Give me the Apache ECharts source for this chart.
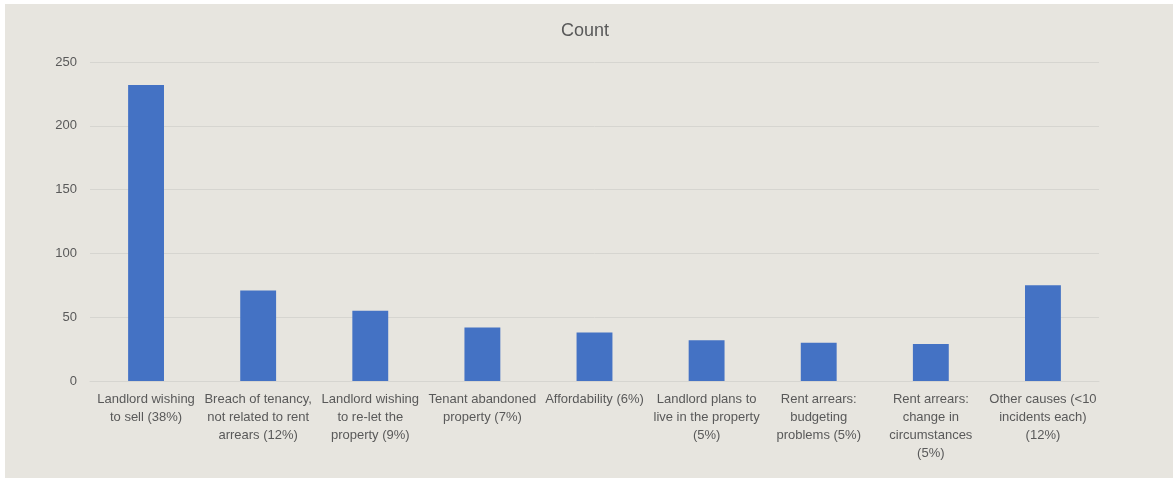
<!DOCTYPE html>
<html>
<head>
<meta charset="utf-8">
<script src="https://cdn.jsdelivr.net/npm/echarts@6/dist/echarts.min.js"></script>
<style>
  html, body { margin: 0; padding: 0; background: #ffffff; }
  #chart { position: absolute; left: 5px; top: 4px; width: 1168px; height: 474px; }
</style>
</head>
<body>
<div id="chart"></div>
<script>
// Eviction reasons and their counts
const categories = [
  'Landlord wishing\nto sell (38%)',
  'Breach of tenancy,\nnot related to rent\narrears (12%)',
  'Landlord wishing\nto re-let the\nproperty (9%)',
  'Tenant abandoned\nproperty (7%)',
  'Affordability (6%)',
  'Landlord plans to\nlive in the property\n(5%)',
  'Rent arrears:\nbudgeting\nproblems (5%)',
  'Rent arrears:\nchange in\ncircumstances\n(5%)',
  'Other causes (<10\nincidents each)\n(12%)'
];
const counts = [232, 71, 55, 42, 38, 32, 30, 29, 75];
const seriesName = 'Count';

const textColor = '#595959';
const gridColor = '#d6d5d0';
const fontFamily = '"Liberation Sans", Arial, sans-serif';

const chart = echarts.init(document.getElementById('chart'));
chart.setOption({
  backgroundColor: '#e7e5df',
  animation: false,
  title: {
    text: seriesName,
    left: 575,
    top: 13,
    textAlign: 'center',
    textStyle: { color: textColor, fontSize: 18, fontWeight: 'normal', fontFamily: fontFamily }
  },
  grid: { left: 85, right: 74, top: 58, bottom: 97 },
  xAxis: {
    type: 'category',
    data: categories,
    axisLine: { show: true, lineStyle: { color: gridColor, width: 1 } },
    axisTick: { show: false },
    axisLabel: {
      interval: 0,
      color: textColor,
      fontSize: 13,
      lineHeight: 18,
      margin: 9,
      fontFamily: fontFamily
    }
  },
  yAxis: {
    type: 'value',
    min: 0,
    max: 250,
    interval: 50,
    axisLine: { show: false },
    axisTick: { show: false },
    splitLine: { lineStyle: { color: gridColor, width: 1 } },
    axisLabel: { color: textColor, fontSize: 13, margin: 13, fontFamily: fontFamily }
  },
  series: [{
    name: seriesName,
    type: 'bar',
    data: counts,
    barCategoryGap: '68%',
    itemStyle: { color: '#4472c4' }
  }]
});
</script>
</body>
</html>
